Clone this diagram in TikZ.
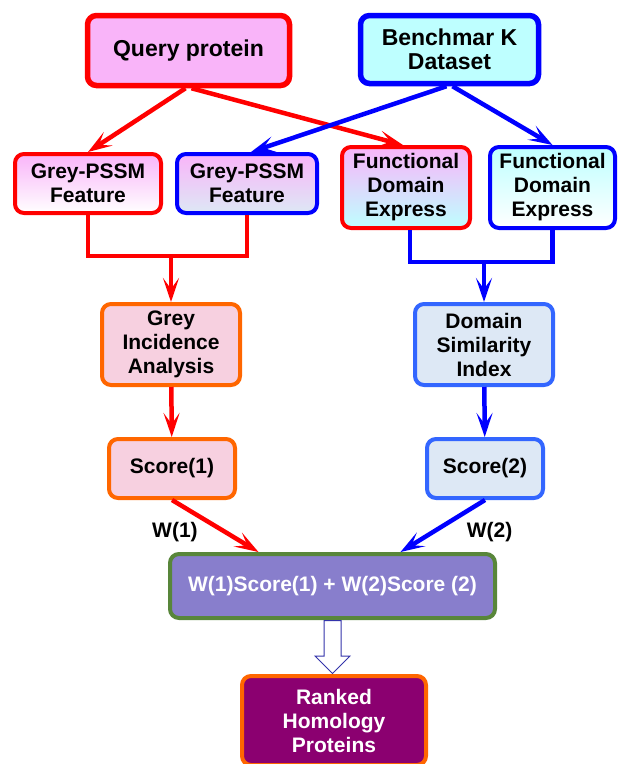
\documentclass[tikz,border=0pt]{standalone}
\usepackage{fontspec}
\setmainfont{Liberation Sans}
\usepackage{tikz}
\usetikzlibrary{arrows.meta,positioning,calc,shapes.arrows}
\usepackage{xcolor}

\definecolor{qpink}{RGB}{249,180,249}
\definecolor{bcyan}{RGB}{190,255,255}
\definecolor{lpink}{RGB}{247,208,224}
\definecolor{lblue}{RGB}{221,232,245}
\definecolor{sblue}{RGB}{51,102,255}
\definecolor{orng}{RGB}{255,102,0}
\definecolor{sumfill}{RGB}{136,126,204}
\definecolor{sumline}{RGB}{88,134,58}
\definecolor{rankfill}{RGB}{139,0,112}
\definecolor{hollow}{RGB}{51,51,170}

\tikzset{
  box/.style={rectangle, rounded corners=9pt, line width=4pt, align=center,
    inner sep=1pt, font=\fontsize{21}{24}\selectfont\bfseries},
  bigbox/.style={box, line width=5.5pt, font=\fontsize{23}{24}\selectfont\bfseries},
  redline/.style={draw=red, line width=4.5pt, -{Stealth[length=24pt,width=16pt,inset=11pt]}},
  blueline/.style={draw=blue, line width=4.5pt, -{Stealth[length=24pt,width=16pt,inset=11pt]}},
  wlabel/.style={inner sep=0pt, font=\fontsize{21}{24}\selectfont\bfseries},
}

\begin{document}
\begin{tikzpicture}[x=1pt, y=-1pt]
  \useasboundingbox (0,0) rectangle (619,764);

  % Define coordinates for nodes
  \node[bigbox, draw=red, fill=qpink, minimum width=202, minimum height=70] (query) at (188.5,50.5) {Query protein};
  \node[bigbox, draw=blue, fill=bcyan, minimum width=178, minimum height=68] (bench) at (449.5,49.5) {Benchmar K\\Dataset};
  \node[box, draw=red, top color=qpink, bottom color=white, minimum width=146, minimum height=59] (greyA) at (88,183.5) {Grey-PSSM\\Feature};
  \node[box, draw=blue, top color=qpink, bottom color=lblue, minimum width=140, minimum height=59] (greyB) at (247,183.5) {Grey-PSSM\\Feature};
  \node[box, draw=red, top color=qpink, bottom color=bcyan, minimum width=128, minimum height=81] (funcA) at (406,187.5) {Functional\\Domain\\Express};
  \node[box, draw=blue, top color=bcyan, bottom color=white, minimum width=125, minimum height=81] (funcB) at (552.5,187.5) {Functional\\Domain\\Express};
  \node[box, draw=orng, fill=lpink, minimum width=138, minimum height=81] (gia) at (171,344.5) {Grey\\Incidence\\Analysis};
  \node[box, draw=sblue, fill=lblue, minimum width=138, minimum height=81] (dsi) at (484,344.5) {Domain\\Similarity\\Index};
  \node[box, draw=orng, fill=lpink, minimum width=126, minimum height=59] (sc1) at (172,468.5) {Score(1)};
  \node[box, draw=sblue, fill=lblue, minimum width=116, minimum height=59] (sc2) at (485,468.5) {Score(2)};
  \node[box, draw=sumline, fill=sumfill, text=white, minimum width=325, minimum height=64] (wsum) at (332.5,586) {W(1)Score(1) + W(2)Score (2)};
  \node[box, draw=orng, fill=rankfill, text=white, minimum width=184, minimum height=89] (ranked) at (334,720.5) {Ranked\\Homology\\Proteins};

  % Junction points of the brackets
  \coordinate (jred) at (171,256);
  \coordinate (jblue) at (484,262);

  % Draw arrows between nodes
  \draw[redline] ([xshift=-3pt]query.south) to (greyA.north);
  \draw[redline] ([xshift=3pt]query.south) to ([xshift=-3pt]funcA.north);
  \draw[blueline] ([xshift=-3pt]bench.south) to ([xshift=4pt]greyB.north);
  \draw[blueline] ([xshift=3pt]bench.south) to (funcB.north);
  \draw[red, line width=4.5pt] (greyA.south) |- (jred) -| (greyB.south);
  \draw[redline] (jred) to (gia.north);
  \draw[blue, line width=4.5pt] ([xshift=4pt]funcA.south) |- (jblue) -| (funcB.south);
  \draw[blueline] (jblue) to (dsi.north);
  \draw[redline] (gia) to (sc1);
  \draw[blueline] (dsi) to (sc2);
  \draw[redline] (sc1.south) to node[wlabel, pos=0.3, below left=4pt and -2pt] {W(1)} ([xshift=-74pt]wsum.north);
  \draw[blueline] (sc2.south) to node[wlabel, pos=0.3, below right=4pt and 5pt] {W(2)} ([xshift=68pt]wsum.north);
  \node[single arrow, shape border rotate=270, draw=hollow, line width=1pt, fill=white,
    minimum height=53pt, minimum width=35pt, single arrow head extend=9pt,
    single arrow head indent=0pt, inner sep=8pt, anchor=tail] (hollowarr) at (wsum.south) {};
\end{tikzpicture}
\end{document}
